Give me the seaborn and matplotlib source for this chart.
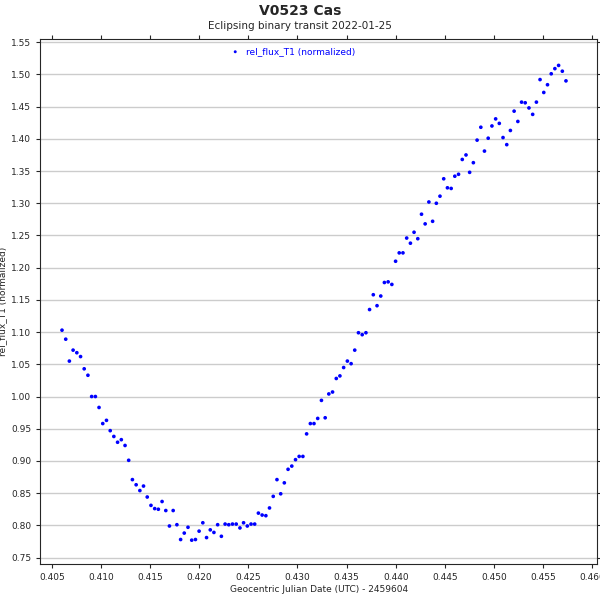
#!/usr/bin/env python3
# Light curve of V0523 Cas, eclipsing binary transit 2022-01-25.
import matplotlib

matplotlib.use("Agg")
import matplotlib.pyplot as plt
import pandas as pd
import seaborn as sns

jd_offset = [
    0.40602, 0.40640, 0.40677, 0.40715, 0.40753, 0.40791, 0.40828, 0.40866,
    0.40904, 0.40942, 0.40979, 0.41017, 0.41055, 0.41093, 0.41130, 0.41168,
    0.41206, 0.41244, 0.41281, 0.41319, 0.41357, 0.41395, 0.41432, 0.41470,
    0.41508, 0.41546, 0.41583, 0.41621, 0.41659, 0.41696, 0.41734, 0.41772,
    0.41810, 0.41847, 0.41885, 0.41923, 0.41961, 0.41998, 0.42036, 0.42074,
    0.42112, 0.42149, 0.42187, 0.42225, 0.42263, 0.42300, 0.42338, 0.42376,
    0.42414, 0.42451, 0.42489, 0.42527, 0.42564, 0.42602, 0.42640, 0.42678,
    0.42715, 0.42753, 0.42791, 0.42829, 0.42866, 0.42904, 0.42942, 0.42980,
    0.43017, 0.43055, 0.43093, 0.43131, 0.43168, 0.43206, 0.43244, 0.43282,
    0.43319, 0.43357, 0.43395, 0.43432, 0.43470, 0.43508, 0.43546, 0.43583,
    0.43621, 0.43659, 0.43697, 0.43734, 0.43772, 0.43810, 0.43848, 0.43885,
    0.43923, 0.43961, 0.43999, 0.44036, 0.44074, 0.44112, 0.44150, 0.44187,
    0.44225, 0.44263, 0.44300, 0.44338, 0.44376, 0.44414, 0.44451, 0.44489,
    0.44527, 0.44565, 0.44602, 0.44640, 0.44678, 0.44716, 0.44753, 0.44791,
    0.44829, 0.44867, 0.44904, 0.44942, 0.44980, 0.45018, 0.45055, 0.45093,
    0.45131, 0.45168, 0.45206, 0.45244, 0.45282, 0.45319, 0.45357, 0.45395,
    0.45433, 0.45470, 0.45508, 0.45546, 0.45584, 0.45621, 0.45659, 0.45697,
    0.45734,
]

rel_flux = [
    1.103, 1.089, 1.055, 1.072, 1.068, 1.062, 1.043, 1.033, 1.000, 1.000,
    0.983, 0.958, 0.963, 0.947, 0.938, 0.929, 0.933, 0.924, 0.901, 0.871,
    0.863, 0.854, 0.861, 0.844, 0.831, 0.826, 0.825, 0.837, 0.823, 0.799,
    0.823, 0.801, 0.778, 0.788, 0.797, 0.777, 0.778, 0.791, 0.804, 0.781,
    0.793, 0.789, 0.801, 0.783, 0.802, 0.801, 0.802, 0.802, 0.796, 0.804,
    0.799, 0.802, 0.802, 0.819, 0.816, 0.815, 0.827, 0.845, 0.871, 0.849,
    0.866, 0.887, 0.892, 0.902, 0.907, 0.907, 0.942, 0.958, 0.958, 0.966,
    0.994, 0.967, 1.004, 1.007, 1.028, 1.032, 1.045, 1.055, 1.051, 1.072,
    1.099, 1.096, 1.099, 1.135, 1.158, 1.141, 1.156, 1.177, 1.178, 1.174,
    1.210, 1.223, 1.223, 1.246, 1.238, 1.255, 1.245, 1.283, 1.268, 1.302,
    1.272, 1.300, 1.311, 1.338, 1.324, 1.323, 1.342, 1.345, 1.368, 1.375,
    1.348, 1.363, 1.398, 1.418, 1.381, 1.401, 1.420, 1.431, 1.424, 1.402,
    1.391, 1.413, 1.443, 1.427, 1.457, 1.456, 1.448, 1.438, 1.457, 1.492,
    1.472, 1.484, 1.501, 1.509, 1.514, 1.505, 1.490,
]

x_ticks = [0.405, 0.410, 0.415, 0.420, 0.425, 0.430, 0.435, 0.440, 0.445,
           0.450, 0.455, 0.460]
y_ticks = [0.75, 0.80, 0.85, 0.90, 0.95, 1.00, 1.05, 1.10, 1.15, 1.20, 1.25,
           1.30, 1.35, 1.40, 1.45, 1.50, 1.55]


def main():
    sns.set_style("ticks")
    plt.rcParams["font.family"] = ["DejaVu Sans"]
    data = pd.DataFrame({"jd": jd_offset, "flux": rel_flux})

    fig = plt.figure(figsize=(6, 6), dpi=100)
    ax = fig.add_axes([0.067, 0.06, 0.928, 0.875])
    sns.scatterplot(
        data=data, x="jd", y="flux", ax=ax, color="blue", s=7,
        edgecolor="none", label="rel_flux_T1 (normalized)",
    )
    ax.set_xlim(0.4038, 0.4605)
    ax.set_ylim(0.74, 1.555)
    ax.set_xticks(x_ticks)
    ax.set_xticklabels([f"{t:.3f}" for t in x_ticks])
    ax.set_yticks(y_ticks)
    ax.set_yticklabels([f"{t:.2f}" for t in y_ticks])
    ax.tick_params(labelsize=6.5, length=3, right=True, top=True)
    ax.yaxis.grid(True, color="#cccccc", linewidth=1)
    ax.set_xlabel("Geocentric Julian Date (UTC) - 2459604", fontsize=6.5,
                  labelpad=2)
    ax.set_ylabel("rel_flux_T1 (normalized)", fontsize=6.5, labelpad=3)
    leg = ax.legend(loc="upper center", frameon=False, fontsize=6.5,
                    markerscale=0.8, handletextpad=0.2,
                    bbox_to_anchor=(0.45, 1.0))
    for text in leg.get_texts():
        text.set_color("blue")
    fig.text(0.5, 0.975, "V0523 Cas", ha="center", fontsize=10,
             fontweight="bold")
    fig.text(0.5, 0.952, "Eclipsing binary transit 2022-01-25", ha="center",
             fontsize=7.5)
    fig.savefig("out.png", dpi=100)


if __name__ == "__main__":
    main()
